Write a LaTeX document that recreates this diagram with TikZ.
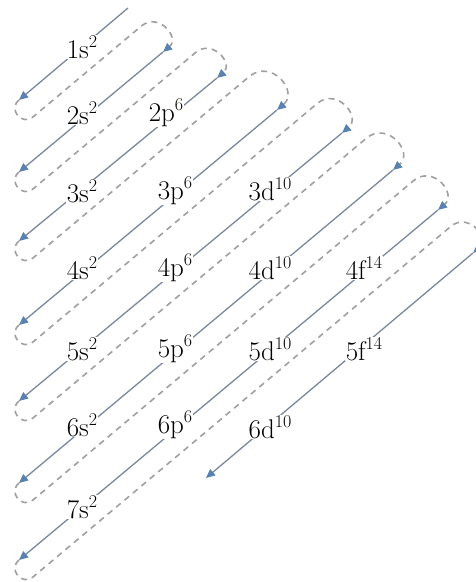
\documentclass[tikz,border=0pt]{standalone}
\usetikzlibrary{arrows.meta,calc}
\definecolor{linecol}{HTML}{7B889C}
\definecolor{tipcol}{HTML}{5A82B0}
\definecolor{dashcol}{HTML}{A0A0A0}
\newcommand\orbl[2]{#1\raisebox{0.42em}{\fontsize{18}{18}\selectfont #2}}
\tikzset{
  solidline/.style={draw=linecol, line width=1.3pt, -{Triangle[length=9pt,width=8pt,color=tipcol]}},
  dashpath/.style={draw=dashcol, line width=1.6pt, dash pattern=on 6pt off 5pt, -{Triangle[length=9pt,width=8pt,color=tipcol]}},
  lbl/.style={fill=white, inner xsep=1pt, inner ysep=0pt, text=black, font=\fontsize{27}{30}\selectfont},
  bot/.style={out=220,in=220,looseness=1.7},
  topc/.style={out=40,in=40,looseness=1.7}
}
\begin{document}
\begin{tikzpicture}[x=1pt,y=1pt]
\fill[white] (0,0) rectangle (475,582);
\useasboundingbox (0,0) rectangle (475,582);
% top ends of solid lines
\coordinate (t1) at (128,574);
\coordinate (t2) at (163,530);
\coordinate (t3) at (217,504);
\coordinate (t4) at (277,472);
\coordinate (t5) at (342,449);
\coordinate (t6) at (393,412);
\coordinate (t7) at (438,372);
\coordinate (t8) at (473,329);
% bottom ends (arrow tips)
\coordinate (b1) at (19,482);
\coordinate (b2) at (19,410);
\coordinate (b3) at (19,341);
\coordinate (b4) at (19,257);
\coordinate (b5) at (19,181);
\coordinate (b6) at (19,99);
\coordinate (b7) at (19,22);
\coordinate (b8) at (206,104);
% solid diagonals
\foreach \i in {1,...,8}{\draw[solidline] (t\i) -- (b\i);}
% labels
\node[lbl] (s1) at (82,535) {\orbl{1s}{2}};
\node[lbl] (s2) at (82,469) {\orbl{2s}{2}};
\node[lbl] (p2) at (166,469) {\orbl{2p}{6}};
\node[lbl] (s3) at (82,391) {\orbl{3s}{2}};
\node[lbl] (p3) at (175,391) {\orbl{3p}{6}};
\node[lbl] (d3) at (270,393) {\orbl{3d}{10}};
\node[lbl] (s4) at (82,314) {\orbl{4s}{2}};
\node[lbl] (p4) at (175,314) {\orbl{4p}{6}};
\node[lbl] (d4) at (270,314) {\orbl{4d}{10}};
\node[lbl] (f4) at (364,314) {\orbl{4f}{14}};
\node[lbl] (s5) at (82,233) {\orbl{5s}{2}};
\node[lbl] (p5) at (175,233) {\orbl{5p}{6}};
\node[lbl] (d5) at (270,233) {\orbl{5d}{10}};
\node[lbl] (f5) at (364,233) {\orbl{5f}{14}};
\node[lbl] (s6) at (82,157) {\orbl{6s}{2}};
\node[lbl] (p6) at (175,157) {\orbl{6p}{6}};
\node[lbl] (d6) at (270,155) {\orbl{6d}{10}};
\node[lbl] (s7) at (82,75) {\orbl{7s}{2}};
% dashed return paths
\foreach \i [evaluate=\i as \j using int(\i+1)] in {1,...,7}{
  \coordinate (p\i) at ($(b\i)+(-50:22)$);
  \coordinate (pe\i) at ($(p\i)+(40:100)$);
  \coordinate (q\i) at ($(p\i)!(t\j)!(pe\i)$);
  \draw[dashpath] (b\i) to[bot] (p\i) -- (q\i) to[topc] (t\j);
}
\end{tikzpicture}
\end{document}
